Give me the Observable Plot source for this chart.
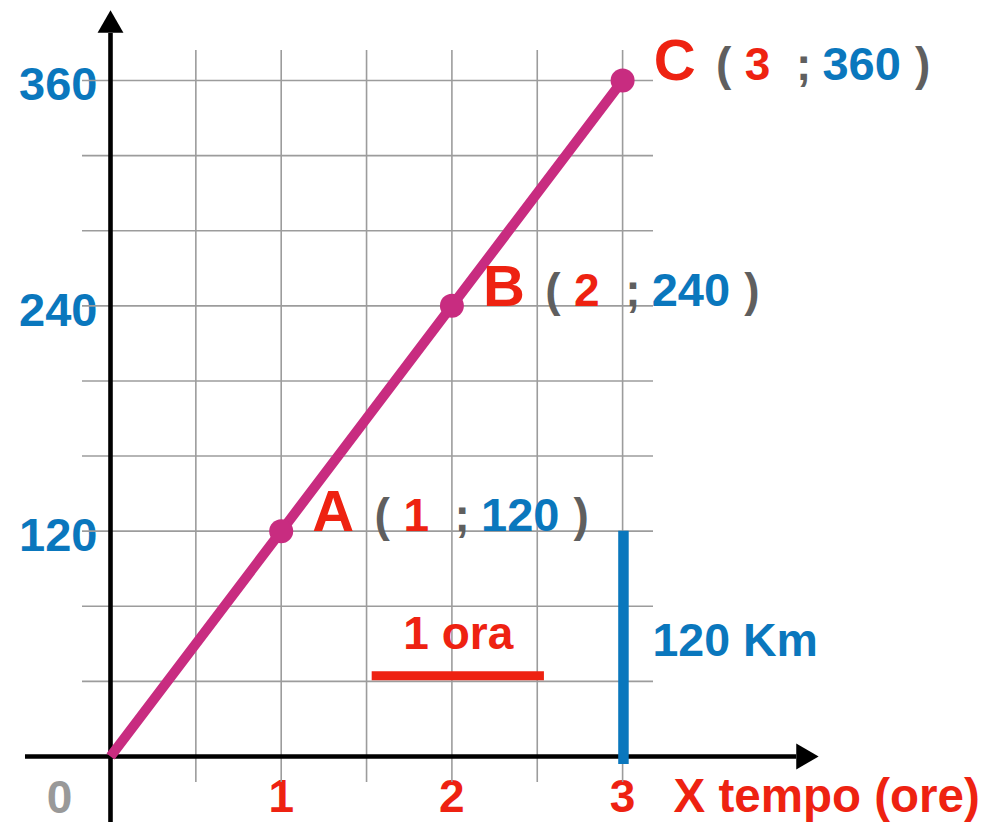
<!DOCTYPE html>
<html>
<head>
<meta charset="utf-8">
<script src="https://cdn.jsdelivr.net/npm/d3@7"></script>
<script src="https://cdn.jsdelivr.net/npm/@observablehq/plot@0.6"></script>
<style>
  html, body { margin: 0; padding: 0; background: #fff; }
  #chart svg { display: block; }
</style>
</head>
<body>
<div id="chart"></div>
<script>
// ---- data ----
const times = [0, 1, 2, 3];                 // ore
const distances = [0, 120, 240, 360];       // Km
const pointNames = ["", "A", "B", "C"];
const xTicks = [1, 2, 3];
const xTickLabels = ["1", "2", "3"];
const yTicks = [120, 240, 360];
const yTickLabels = ["120", "240", "360"];
const originLabel = ["0"];
const gridX = [0.5, 1, 1.5, 2, 2.5, 3];
const gridY = [40, 80, 120, 160, 200, 240, 280, 320, 360];
const gridXExtent = [-13.8, 376];          // vertical grid lines, in Km
const gridYExtent = [-0.164, 3.181];       // horizontal grid lines, in ore
const xAxisExtent = [-0.498, 4.02];        // ore
const yAxisExtent = [-35.2, 385];          // Km
const xArrowTip = [4.061];                 // ore
const yArrowTip = [389.4];                 // Km
const oraSegment = [1.533, 2.542];         // ore
const oraLevel = 43;                       // Km
const oraLabel = "1 ora";
const kmSegment = [-4.3, 120];             // Km
const kmTime = 3.005;
const kmLabel = "120 Km";
const xTitle = "X tempo (ore)";

// ---- derived tables ----
const path = times.map((t, i) => ({t, d: distances[i]}));
const named = path.slice(1).map((p, i) => ({...p, name: pointNames[i + 1]}));

// ---- styles ----
const RED = "#ee2211", BLUE = "#0a77bd", MAG = "#c82c80", GREY = "#5f5f5f", GRID = "#9c9c9c";
const font = {fontFamily: "Liberation Sans, Arial, sans-serif", fontWeight: "bold", fontSize: 46, lineAnchor: "bottom"};

const labelPiece = (text, fill, dx, extra = {}) =>
  Plot.text(named, {x: "t", y: "d", text, fill, dx, textAnchor: "middle", ...font, ...extra});

const chart = Plot.plot({
  width: 990,
  height: 822,
  margin: 0,
  x: {domain: [-0.6444, 5.1552], axis: null},
  y: {domain: [-35.15, 402.6], axis: null},
  style: {background: "#fff"},
  marks: [
    // tick labels (drawn under grid)
    Plot.text(yTicks, {x: 0, y: d => d, text: (d, i) => yTickLabels[i], fill: BLUE, textAnchor: "end", dx: -13, dy: 20, ...font, fontSize: 47}),
    Plot.text(xTicks, {x: d => d, y: 0, text: (d, i) => xTickLabels[i], fill: RED, textAnchor: "middle", dy: 56, ...font}),
    Plot.text(originLabel, {x: 0, y: 0, text: d => d, fill: "#999", textAnchor: "middle", dx: -51, dy: 57, ...font}),
    Plot.text([xTitle], {x: 3, y: 0, text: d => d, fill: RED, textAnchor: "start", dx: 51, dy: 56, ...font, fontSize: 47.5}),

    // grid
    Plot.ruleX(gridX, {x: d => d, y1: gridXExtent[0], y2: gridXExtent[1], stroke: GRID, strokeWidth: 1.6}),
    Plot.ruleY(gridY, {y: d => d, x1: gridYExtent[0], x2: gridYExtent[1], stroke: GRID, strokeWidth: 1.6}),

    // axes
    Plot.ruleY([0], {x1: xAxisExtent[0], x2: xAxisExtent[1], stroke: "#000", strokeWidth: 4.6}),
    Plot.ruleX([0], {y1: yAxisExtent[0], y2: yAxisExtent[1], stroke: "#000", strokeWidth: 4.6}),
    Plot.dot(xArrowTip, {x: d => d, y: 0, symbol: "triangle", r: 9.6, fill: "#000", stroke: null, rotate: 90}),
    Plot.dot(yArrowTip, {x: 0, y: d => d, symbol: "triangle", r: 9.6, fill: "#000", stroke: null}),

    // 120 Km segment and label
    Plot.ruleX([kmTime], {x: d => d, y1: kmSegment[0], y2: kmSegment[1], stroke: BLUE, strokeWidth: 10.5}),
    Plot.text([kmLabel], {x: kmTime, y: (kmSegment[1] + 0) / 2, text: d => d, fill: BLUE, textAnchor: "start", dx: 29, dy: 12, ...font, fontSize: 46.5}),

    // 1 ora segment and label
    Plot.ruleY([oraLevel], {y: d => d, x1: oraSegment[0], x2: oraSegment[1], stroke: RED, strokeWidth: 9}),
    Plot.text([oraLabel], {x: (oraSegment[0] + oraSegment[1]) / 2, y: oraLevel, text: d => d, fill: RED, textAnchor: "middle", dy: -27, ...font}),

    // motion line and points
    Plot.line(path, {x: "t", y: "d", stroke: MAG, strokeWidth: 10, strokeLinecap: "butt"}),
    Plot.dot(named, {x: "t", y: "d", r: 12, fill: MAG, stroke: null}),

    // point labels: A ( 1 ; 120 )
    labelPiece("name", RED, 52, {fontSize: 58}),
    labelPiece(() => "(", GREY, 101),
    labelPiece(d => String(d.t), RED, 135),
    labelPiece(() => ";", GREY, 181),
    labelPiece(d => String(d.d), BLUE, 239, {fontSize: 47}),
    labelPiece(() => ")", GREY, 300)
  ]
});

document.getElementById("chart").appendChild(chart);
</script>
</body>
</html>
